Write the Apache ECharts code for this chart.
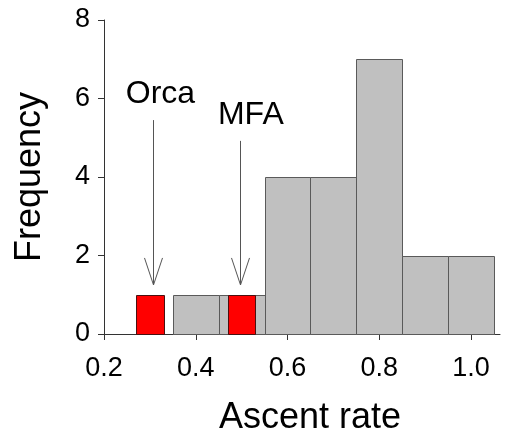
<!DOCTYPE html>
<html><head><meta charset="utf-8">
<script src="https://cdn.jsdelivr.net/npm/echarts@6/dist/echarts.min.js"></script>
<style>html,body{margin:0;padding:0;background:#fff}#c{width:512px;height:437px}</style>
</head><body><div id="c"></div>
<script>
// Histogram (gray bins)
const binStart = [0.35, 0.45, 0.55, 0.65, 0.75, 0.85, 0.95];
const binEnd   = [0.45, 0.55, 0.65, 0.75, 0.85, 0.95, 1.05];
const binCounts = [1, 1, 4, 4, 7, 2, 2];
// Highlighted (red) observations
const redStart = [0.27, 0.47];
const redEnd   = [0.33, 0.53];
const redCounts = [1, 1];
// Annotations
const annotLabels = ['Orca', 'MFA'];
const annotTextX = [0.323, 0.52];
const annotTextY = [6.1, 5.58];
const annotX = [0.306, 0.496];
const annotTop = [5.45, 4.92];
const annotTip = [1.25, 1.25];
// Axis ticks
const xTicks = [0.2, 0.4, 0.6, 0.8, 1.0];
const yTicks = [0, 2, 4, 6, 8];

const FONT = 'Liberation Sans, Arial, sans-serif';
const chart = echarts.init(document.getElementById('c'), null, {renderer: 'canvas'});

function barItem(fill, stroke) {
  return function (params, api) {
    const x0 = api.value(0), x1 = api.value(1), v = api.value(2);
    const pTop = api.coord([x0, v]);
    const pBot = api.coord([x1, 0]);
    return {
      type: 'rect',
      shape: {x: Math.round(pTop[0]) + 0.5, y: Math.round(pTop[1]) + 0.5,
              width: Math.round(pBot[0]) - Math.round(pTop[0]),
              height: Math.round(pBot[1]) - Math.round(pTop[1])},
      style: {fill: fill, stroke: stroke, lineWidth: 1}
    };
  };
}

const grayData = binStart.map((s, i) => [s, binEnd[i], binCounts[i]]);
const redData = redStart.map((s, i) => [s, redEnd[i], redCounts[i]]);
const annotData = annotLabels.map((l, i) => [annotTextX[i], annotTextY[i], annotX[i], annotTop[i], annotTip[i], i]);

chart.setOption({
  animation: false,
  backgroundColor: '#fff',
  grid: {left: 104, right: 12, top: 20, bottom: 103, containLabel: false, outerBoundsMode: 'none'},
  xAxis: {
    type: 'value', min: 0.2, max: 1.063, interval: 0.2,
    name: 'Ascent rate', nameLocation: 'middle', nameGap: 66,
    nameTextStyle: {fontFamily: FONT, fontSize: 36, color: '#000', padding: [0, 0, 0, 16]},
    axisLine: {show: true, lineStyle: {color: '#333', width: 1}},
    axisTick: {show: true, length: 6, customValues: xTicks, lineStyle: {color: '#333'}},
    axisLabel: {customValues: xTicks, margin: 21, fontFamily: FONT, fontSize: 27, color: '#000',
                formatter: v => Number(v).toFixed(1)},
    splitLine: {show: false}
  },
  yAxis: {
    type: 'value', min: 0, max: 8, interval: 2,
    name: 'Frequency', nameLocation: 'middle', nameGap: 56, nameRotate: 90,
    nameTextStyle: {fontFamily: FONT, fontSize: 36, color: '#000'},
    axisLine: {show: true, lineStyle: {color: '#333', width: 1}},
    axisTick: {show: true, length: 6, customValues: yTicks, lineStyle: {color: '#333'}},
    axisLabel: {customValues: yTicks, margin: 14, fontFamily: FONT, fontSize: 27, color: '#000'},
    splitLine: {show: false}
  },
  series: [
    {type: 'custom', data: grayData, encode: {x: [0, 1], y: 2},
     renderItem: barItem('#c0c0c0', '#5a5a5a'), z: 2},
    {type: 'custom', data: redData, encode: {x: [0, 1], y: 2},
     renderItem: barItem('#ff0000', '#4a1010'), z: 3},
    {type: 'custom', data: annotData, encode: {x: 2, y: 3}, z: 4, clip: false,
     renderItem: function (params, api) {
       const t = api.coord([api.value(0), api.value(1)]);
       const top = api.coord([api.value(2), api.value(3)]);
       const tip = api.coord([api.value(2), api.value(4)]);
       const label = annotLabels[api.value(5)];
       const x = Math.round(top[0]) + 0.5;
       return {
         type: 'group',
         children: [
           {type: 'line', shape: {x1: x, y1: top[1], x2: x, y2: tip[1]},
            style: {stroke: '#555', lineWidth: 1}},
           {type: 'polyline', shape: {points: [[x - 9, tip[1] - 27], [x, tip[1]], [x + 9, tip[1] - 27]]},
            style: {stroke: '#555', lineWidth: 1, fill: null}},
           {type: 'text', x: t[0], y: t[1],
            style: {text: label, fontFamily: FONT, fontSize: 32, fill: '#000',
                    align: 'center', verticalAlign: 'middle'}}
         ]
       };
     }}
  ]
});
</script></body></html>
